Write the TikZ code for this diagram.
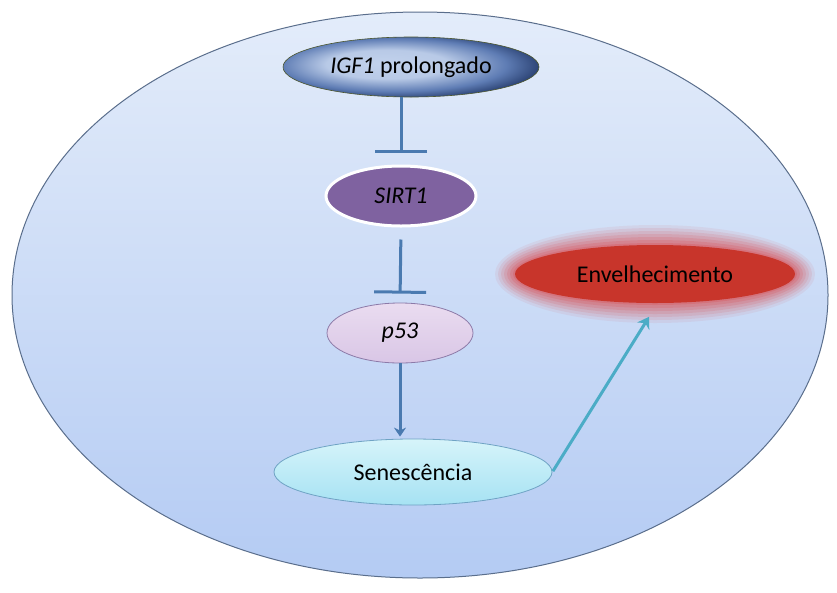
\documentclass[tikz,border=0pt]{standalone}
\usepackage{fontspec}
\setmainfont{Carlito}
\usetikzlibrary{shapes.geometric,arrows.meta}
\definecolor{cellborder}{HTML}{5A6E8C}
\definecolor{celltop}{HTML}{E3ECFA}
\definecolor{cellbot}{HTML}{B4CBF3}
\definecolor{inhib}{HTML}{4A7AB0}
\definecolor{teal}{HTML}{4BACC6}
\definecolor{navy}{HTML}{1A2F5E}
\definecolor{navymid}{HTML}{5E7CB4}
\definecolor{navylight}{HTML}{C2D2EC}
\definecolor{sirtfill}{HTML}{7F62A0}
\definecolor{lav}{HTML}{EADCF0}
\definecolor{lavb}{HTML}{D9C6E6}
\definecolor{lavborder}{HTML}{8C7AA8}
\definecolor{cyanA}{HTML}{D6F4FA}
\definecolor{cyanB}{HTML}{A6E2F3}
\definecolor{cyanborder}{HTML}{6FA3C4}
\definecolor{redfill}{HTML}{C8352B}
\definecolor{redglow}{HTML}{D9474A}
\pgfdeclareradialshading{igfshade}{\pgfpoint{-6bp}{3bp}}{color(0bp)=(navylight); color(12bp)=(navylight!90!navymid); color(22bp)=(navymid); color(30bp)=(navy); color(50bp)=(navy)}
\tikzset{
  oval/.style={ellipse, inner sep=0pt, font=\fontsize{24}{28}\selectfont},
  inhibline/.style={draw=inhib, line width=3pt, -{Bar[width=52pt,line width=3pt]}},
  actline/.style={draw=inhib, line width=3pt, -{Stealth[length=9pt,width=12pt]}},
  tealline/.style={draw=teal, line width=3pt, -{Stealth[length=11pt,width=14pt]}},
}
\begin{document}
\begin{tikzpicture}[x=1pt,y=-1pt]
\useasboundingbox[fill=white] (0,0) rectangle (837,592);
% cell
\draw[cellborder, line width=1pt, top color=celltop, bottom color=cellbot] (420,295) ellipse [x radius=408, y radius=283];
% glow of Envelhecimento
\foreach \d/\o in {20/0.08,17/0.10,14/0.12,11/0.14,8/0.17,5/0.2,2/0.25}{
  \fill[redglow, opacity=\o] (655,274) ellipse [x radius=140+\d, y radius=29+\d];
}
% nodes
\node[oval, shading=igfshade, draw=navy!50!olive, line width=0.6pt, minimum width=256pt, minimum height=60pt] (igf) at (411,67) {\textit{IGF1} prolongado};
\node[oval, fill=sirtfill, draw=white, line width=3pt, minimum width=150pt, minimum height=60pt] (sirt) at (401,196) {\textit{SIRT1}};
\node[oval, top color=lav, bottom color=lavb, draw=lavborder, line width=0.8pt, minimum width=146pt, minimum height=60pt] (p53) at (400,333) {\textit{p53}};
\node[oval, top color=cyanA, bottom color=cyanB, draw=cyanborder, line width=0.8pt, minimum width=278pt, minimum height=66pt] (sen) at (413,472) {Senescência};
\node[oval, fill=redfill, minimum width=280pt, minimum height=58pt] (env) at (655,274) {Envelhecimento};
% connectors
\draw[inhibline, shorten >=12pt] (igf.south -| sirt.north) -- (sirt.north);
\draw[inhibline, shorten <=12pt, shorten >=9pt] (sirt.south) -- (p53.north);
\draw[actline, shorten >=2pt] (p53.south) -- (p53.south |- sen.north);
\draw[tealline, shorten <=1pt, shorten >=16pt] (sen.east) -- (env.-85);
\end{tikzpicture}
\end{document}
